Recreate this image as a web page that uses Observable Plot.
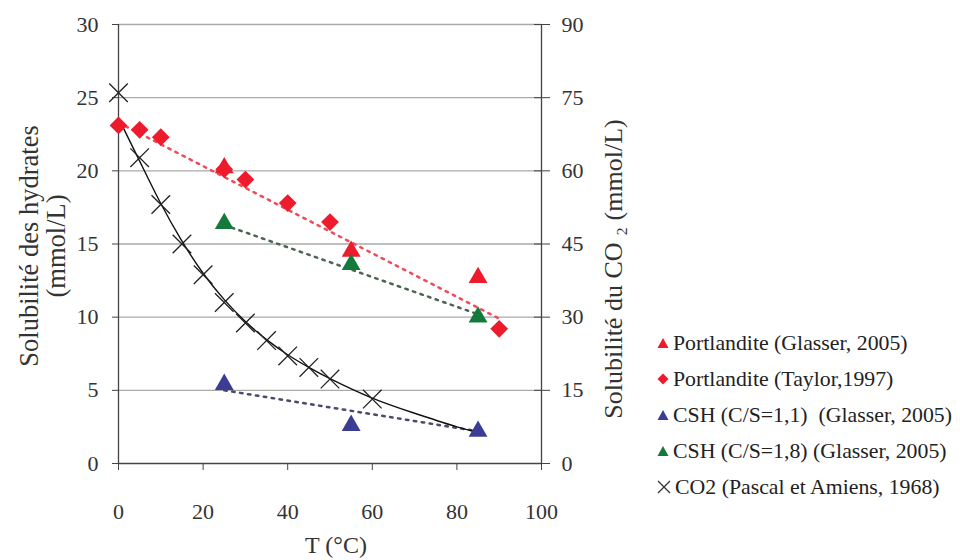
<!DOCTYPE html>
<html><head><meta charset="utf-8">
<script src="https://cdn.jsdelivr.net/npm/d3@7"></script>
<script src="https://cdn.jsdelivr.net/npm/@observablehq/plot@0.6"></script>
<style>
body{margin:0;background:#fff;}
#wrap{position:relative;width:960px;height:560px;font-family:"Liberation Serif","Times New Roman","DejaVu Serif",serif;background:#fff;}
#legend{position:absolute;left:656px;top:325px;font-size:21.8px;color:#222;}
.item{display:flex;align-items:center;height:36px;white-space:pre;}
.item svg{margin-right:3px;}
</style></head><body><div id="wrap"><div id="chart"></div><div id="legend"></div></div>
<script>
// ---- data (T in °C, hydrate solubility in mmol/L, CO2 solubility in mmol/L) ----
const portlanditeGlasserT = [25, 55, 85];
const portlanditeGlasserS = [20.2, 14.5, 12.7];
const portlanditeTaylorT = [0, 5, 10, 25, 30, 40, 50, 90];
const portlanditeTaylorS = [23.1, 22.8, 22.3, 20.1, 19.4, 17.8, 16.5, 9.2];
const csh11T = [25, 55, 85];
const csh11S = [5.4, 2.6, 2.2];
const csh18T = [25, 55, 85];
const csh18S = [16.4, 13.6, 10.0];
const co2T = [0, 5, 10, 15, 20, 25, 30, 35, 40, 45, 50, 60];
const co2S = [76, 62.7, 53.1, 45, 38.7, 33, 28.8, 25.2, 22.05, 19.7, 17.3, 13.2];
// trend lines
const trendRedT = [0, 90];
const trendRedS = [23.3, 9.9];
const trendGreenT = [25, 85];
const trendGreenS = [16.3, 10.2];
const trendBlueT = [25, 85];
const trendBlueS = [5.0, 2.2];
const co2FitT = [0, 5, 10, 15, 20, 25, 30, 35, 40, 45, 50, 60, 70, 80, 85];
const co2FitS = [70.8, 62, 53.3, 45.6, 39, 33.6, 29.1, 25.4, 22.3, 19.7, 17.4, 13.4, 10.3, 7.5, 6.4];
// axes
const yTicks = [0, 5, 10, 15, 20, 25, 30];
const xTicks = [0, 20, 40, 60, 80, 100];
const co2Factor = 3; // right axis = left axis × 3
const legendLabels = ["Portlandite (Glasser, 2005)", "Portlandite (Taylor,1997)", "CSH (C/S=1,1)  (Glasser, 2005)", "CSH (C/S=1,8) (Glasser, 2005)", "CO2 (Pascal et Amiens, 1968)"];

const RED = "#ee1b2c", GREEN = "#137a3c", BLUE = "#3b3d95";
const zip = (xs, ys) => xs.map((t, i) => ({t, v: ys[i]}));

const font = '"Liberation Serif", "Times New Roman", "DejaVu Serif", serif';
const plot = Plot.plot({
  width: 960, height: 560,
  marginLeft: 118, marginRight: 419, marginTop: 24, marginBottom: 97,
  style: {fontFamily: font, fontSize: "22px", color: "#333", background: "white", overflow: "visible"},
  x: {domain: [0, 100]},
  y: {domain: [0, 30]},
  marks: [
    Plot.ruleY(yTicks.slice(1), {stroke: "#aaaaaa", strokeWidth: 1.3}),
    Plot.axisY(yTicks, {anchor: "left", tickSize: 6, tickPadding: 14, label: null, stroke: "#444", fontFamily: font}),
    Plot.axisY(yTicks, {anchor: "right", tickSize: 8, tickPadding: 12, label: null, tickFormat: d => d * co2Factor, stroke: "#444", fontFamily: font}),
    Plot.axisY(yTicks, {anchor: "right", tickSize: 8, dx: -8, label: null, tickFormat: () => "", stroke: "#444"}),
    Plot.axisX(xTicks, {anchor: "bottom", tickSize: 7, tickPadding: 33, label: null, stroke: "#444", fontFamily: font}),
    Plot.ruleX([0, 100], {stroke: "#444", strokeWidth: 1.3}),
    Plot.ruleY([0], {stroke: "#444", strokeWidth: 1.3}),
    // axis titles
    Plot.text(["Solubilité des hydrates\n(mmol/L)"], {frameAnchor: "left", textAnchor: "middle", lineAnchor: "middle", dx: -75.5, dy: 2, rotate: -90, fontSize: 26.5, lineHeight: 1.03, fill: "#333", fontFamily: font}),
    Plot.text(["Solubilité du CO ₂ (mmol/L)"], {frameAnchor: "right", textAnchor: "middle", lineAnchor: "middle", dx: 72, dy: 25, rotate: -90, fontSize: 26, fill: "#333", fontFamily: font}),
    Plot.text(["T (°C)"], {frameAnchor: "bottom", textAnchor: "middle", lineAnchor: "middle", dx: 6, dy: 82, fontSize: 24, fill: "#333", fontFamily: font}),
    // trend lines
    Plot.line(zip(trendRedT, trendRedS), {x: "t", y: "v", stroke: "#f04a5a", strokeWidth: 2.5, strokeDasharray: "2.5,5.5"}),
    Plot.line(zip(trendGreenT, trendGreenS), {x: "t", y: "v", stroke: "#4b6552", strokeWidth: 2.5, strokeDasharray: "2.5,5.5"}),
    Plot.line(zip(trendBlueT, trendBlueS), {x: "t", y: "v", stroke: "#4a4b6c", strokeWidth: 2.5, strokeDasharray: "2.5,5.5"}),
    Plot.line(zip(co2FitT, co2FitS), {x: "t", y: d => d.v / co2Factor, stroke: "#111", strokeWidth: 1.4, curve: "natural"}),
    // markers
    Plot.dot(zip(portlanditeGlasserT, portlanditeGlasserS), {x: "t", y: "v", symbol: "triangle", r: 7, fill: RED}),
    Plot.dot(zip(portlanditeTaylorT, portlanditeTaylorS), {x: "t", y: "v", symbol: "diamond2", r: 8, fill: RED}),
    Plot.dot(zip(csh11T, csh11S), {x: "t", y: "v", symbol: "triangle", r: 7, fill: BLUE}),
    Plot.dot(zip(csh18T, csh18S), {x: "t", y: "v", symbol: "triangle", r: 7, fill: GREEN}),
    Plot.dot(zip(co2T, co2S), {x: "t", y: d => d.v / co2Factor, symbol: "times", r: 8.5, stroke: "#222", strokeWidth: 1.3})
  ]
});
document.getElementById("chart").appendChild(plot);

// legend
const legendSymbols = [
  `<svg width="14" height="14"><path d="M7 2 L12.5 12 L1.5 12 Z" fill="${RED}"/></svg>`,
  `<svg width="14" height="14"><path d="M7 1.5 L12.5 7 L7 12.5 L1.5 7 Z" fill="${RED}"/></svg>`,
  `<svg width="14" height="14"><path d="M7 2 L12.5 12 L1.5 12 Z" fill="${BLUE}"/></svg>`,
  `<svg width="14" height="14"><path d="M7 2 L12.5 12 L1.5 12 Z" fill="${GREEN}"/></svg>`,
  `<svg width="16" height="16"><path d="M2 2 L14 14 M14 2 L2 14" stroke="#333" stroke-width="1.3"/></svg>`
];
document.getElementById("legend").innerHTML = legendLabels.map((l, i) =>
  `<div class="item">${legendSymbols[i]}<span>${l}</span></div>`).join("");
</script>
</body></html>
